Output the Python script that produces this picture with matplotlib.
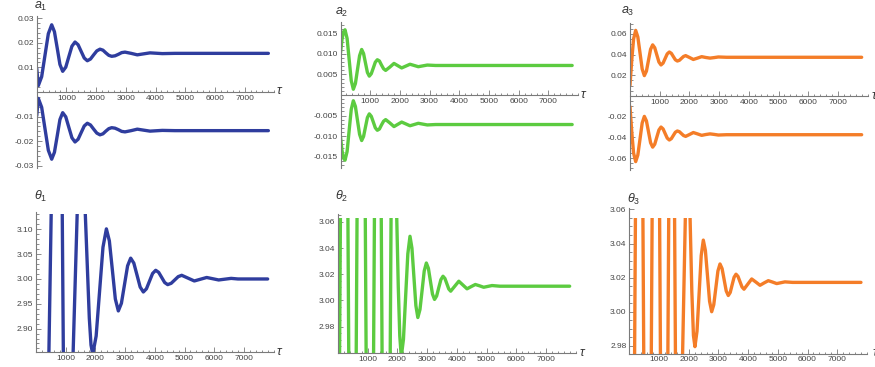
import matplotlib
matplotlib.use('Agg')
import matplotlib.pyplot as plt
from matplotlib.patches import Rectangle
from matplotlib.ticker import MultipleLocator

plt.rcParams['font.family'] = ['Liberation Sans', 'DejaVu Sans']
plt.rcParams['mathtext.fontset'] = 'custom'
plt.rcParams['mathtext.it'] = 'Liberation Sans:italic'
plt.rcParams['mathtext.rm'] = 'Liberation Sans'

# ---------------- data ----------------
# a1 (upper and lower branch)
a1_tau = [0, 55, 167, 280, 392, 505, 597, 690, 782, 875, 979, 1083, 1186, 1290,
          1394, 1497, 1601, 1704, 1811, 1918, 2024, 2131, 2230, 2328, 2427, 2525,
          2637, 2749, 2861, 2973, 3180, 3387, 3600, 3815, 4230, 4650, 7800]
a1_up = [0.0097, 0.0026, 0.0062, 0.0150, 0.0237, 0.0273, 0.0245, 0.0179, 0.0112, 0.0084,
         0.0101, 0.0144, 0.0186, 0.0203, 0.0192, 0.0165, 0.0138, 0.0127, 0.0134, 0.0151,
         0.0167, 0.0174, 0.0170, 0.0159, 0.0149, 0.0145, 0.0147, 0.0153, 0.0160, 0.0162,
         0.0157, 0.0151, 0.0155, 0.0159, 0.0156, 0.0157, 0.0157]
a1_low = [-0.0097, -0.0026, -0.0062, -0.0150, -0.0237, -0.0273, -0.0245, -0.0179, -0.0112, -0.0084,
          -0.0101, -0.0144, -0.0186, -0.0203, -0.0192, -0.0165, -0.0138, -0.0127, -0.0134, -0.0151,
          -0.0167, -0.0174, -0.0170, -0.0159, -0.0149, -0.0145, -0.0147, -0.0153, -0.0160, -0.0162,
          -0.0157, -0.0151, -0.0155, -0.0159, -0.0156, -0.0157, -0.0157]

# a2
a2_tau = [0, 50, 100, 152, 222, 292, 362, 432, 502, 572, 643, 713, 777, 841, 906, 970,
          1037, 1105, 1172, 1240, 1310, 1380, 1450, 1520, 1660, 1801, 1930, 2060, 2200,
          2340, 2480, 2620, 2770, 2923, 3200, 7800]
a2_up = [0.0102, 0.0135, 0.0154, 0.0159, 0.0138, 0.0086, 0.0035, 0.0014, 0.0028, 0.0062,
         0.0096, 0.0111, 0.0101, 0.0078, 0.0055, 0.0046, 0.0052, 0.0066, 0.0080, 0.0086,
         0.0083, 0.0073, 0.0064, 0.0060, 0.0068, 0.0077, 0.00715, 0.0066, 0.00705, 0.0075,
         0.0072, 0.0069, 0.0071, 0.0073, 0.0072, 0.0072]
a2_low = [-0.0102, -0.0135, -0.0154, -0.0159, -0.0138, -0.0086, -0.0035, -0.0014, -0.0028, -0.0062,
          -0.0096, -0.0111, -0.0101, -0.0078, -0.0055, -0.0046, -0.0052, -0.0066, -0.0080, -0.0086,
          -0.0083, -0.0073, -0.0064, -0.0060, -0.0068, -0.0077, -0.00715, -0.0066, -0.00705, -0.0075,
          -0.0072, -0.0069, -0.0071, -0.0073, -0.0072, -0.0072]

# a3
a3_tau = [0, 60, 120, 191, 264, 337, 410, 483, 553, 623, 693, 763, 833, 903, 974, 1044,
          1114, 1184, 1254, 1324, 1392, 1459, 1527, 1594, 1664, 1734, 1804, 1874, 2003,
          2132, 2272, 2413, 2553, 2694, 2834, 2974, 3250, 7800]
a3_up = [0.0103, 0.0350, 0.0550, 0.0634, 0.0570, 0.0416, 0.0261, 0.0197, 0.0240, 0.0346,
         0.0451, 0.0494, 0.0466, 0.0397, 0.0328, 0.0300, 0.0318, 0.0363, 0.0407, 0.0425,
         0.0412, 0.0381, 0.0350, 0.0338, 0.0345, 0.0364, 0.0382, 0.0390, 0.0372, 0.0353,
         0.0366, 0.0380, 0.0372, 0.0366, 0.0371, 0.0377, 0.0374, 0.0374]
a3_low = [-0.0103, -0.0350, -0.0550, -0.0634, -0.0570, -0.0416, -0.0261, -0.0197, -0.0240, -0.0346,
          -0.0451, -0.0494, -0.0466, -0.0397, -0.0328, -0.0300, -0.0318, -0.0363, -0.0407, -0.0425,
          -0.0412, -0.0381, -0.0350, -0.0338, -0.0345, -0.0364, -0.0382, -0.0390, -0.0372, -0.0353,
          -0.0366, -0.0380, -0.0372, -0.0366, -0.0371, -0.0377, -0.0374, -0.0374]

# theta1 (values outside the plot range only shape the clipped strokes)
t1_tau = [0, 415, 530, 875, 930, 1215, 1420, 1565, 1680, 1795, 1852, 1910, 2025, 2140, 2255,
          2370, 2470, 2571, 2671, 2772, 2876, 2980, 3084, 3188, 3294, 3401, 3507, 3614, 3718,
          3822, 3926, 4030, 4131, 4232, 4333, 4434, 4552, 4670, 4788, 4906, 5118, 5330, 5538,
          5747, 5950, 6150, 6360, 6570, 6800, 7800]
t1_val = [2.78, 2.78, 3.20, 3.20, 2.78, 2.78, 3.20, 3.277, 3.10, 2.921, 2.867, 2.848, 2.885,
          2.9745, 3.064, 3.101, 3.0768, 3.0183, 2.9597, 2.9356, 2.9511, 2.9888, 3.0265, 3.042,
          3.032, 3.0079, 2.9838, 2.9738, 2.9802, 2.9957, 3.0111, 3.0175, 3.0133, 3.0031, 2.9928,
          2.9886, 2.9913, 2.998, 3.0047, 3.0074, 3.0017, 2.996, 2.9995, 3.003, 3.0005, 2.998,
          2.9996, 3.0012, 3.0, 3.0]

# theta2
t2_tau = [0, 45, 90, 325, 370, 605, 650, 910, 955, 1190, 1235, 1448, 1492, 1750, 1795, 1900,
          1975, 2030, 2080, 2130, 2204, 2277, 2351, 2424, 2490, 2556, 2622, 2688, 2760, 2832,
          2903, 2975, 3044, 3112, 3181, 3250, 3321, 3392, 3464, 3535, 3600, 3665, 3729, 3794,
          3931, 4068, 4206, 4344, 4484, 4624, 4765, 4905, 5186, 5450, 7800]
t2_val = [2.93, 2.93, 3.095, 3.095, 2.93, 2.93, 3.095, 3.095, 2.93, 2.93, 3.095, 3.095, 2.93,
          2.93, 3.095, 3.14, 3.066, 3.01, 2.973, 2.957, 2.9704, 3.003, 3.0356, 3.049, 3.0399,
          3.018, 2.9961, 2.987, 2.9931, 3.0078, 3.0225, 3.0286, 3.0245, 3.0147, 3.0049, 3.0008,
          3.0034, 3.0097, 3.0159, 3.0185, 3.0168, 3.0128, 3.0088, 3.0071, 3.0109, 3.0147,
          3.0118, 3.0089, 3.0106, 3.0122, 3.0112, 3.0101, 3.0114, 3.0109, 3.0109]

# theta3
t3_tau = [0, 170, 215, 450, 495, 732, 777, 1012, 1057, 1290, 1336, 1516, 1562, 1765, 1915,
          1985, 2045, 2105, 2160, 2210, 2280, 2351, 2421, 2492, 2562, 2633, 2703, 2774, 2844,
          2914, 2984, 3054, 3124, 3193, 3263, 3333, 3398, 3463, 3528, 3593, 3660, 3727, 3795,
          3862, 3991, 4121, 4261, 4401, 4540, 4680, 4821, 4963, 5240, 5500, 7800]
t3_val = [2.95, 2.95, 3.08, 3.08, 2.95, 2.95, 3.08, 3.08, 2.95, 2.95, 3.08, 3.08, 2.95, 2.95,
          3.08, 3.10, 3.056, 3.012, 2.986, 2.9795, 2.9886, 3.0108, 3.0329, 3.042, 3.0359, 3.021,
          3.0061, 3.000, 3.0041, 3.014, 3.0239, 3.028, 3.0253, 3.0188, 3.0122, 3.0095, 3.0113,
          3.0158, 3.0202, 3.022, 3.0207, 3.0176, 3.0145, 3.0132, 3.0162, 3.0192, 3.0174,
          3.0155, 3.0169, 3.0182, 3.0174, 3.0165, 3.0175, 3.0172, 3.0172]

# tick values / labels
x_ticks = [1000, 2000, 3000, 4000, 5000, 6000, 7000]
x_labels = ['1000', '2000', '3000', '4000', '5000', '6000', '7000']
a1_ticks = [-0.03, -0.02, -0.01, 0.01, 0.02, 0.03]
a1_labels = ['-0.03', '-0.02', '-0.01', '0.01', '0.02', '0.03']
a2_ticks = [-0.015, -0.010, -0.005, 0.005, 0.010, 0.015]
a2_labels = ['-0.015', '-0.010', '-0.005', '0.005', '0.010', '0.015']
a3_ticks = [-0.06, -0.04, -0.02, 0.02, 0.04, 0.06]
a3_labels = ['-0.06', '-0.04', '-0.02', '0.02', '0.04', '0.06']
t1_ticks = [2.90, 2.95, 3.00, 3.05, 3.10]
t1_labels = ['2.90', '2.95', '3.00', '3.05', '3.10']
t23_ticks = [2.98, 3.00, 3.02, 3.04, 3.06]
t23_labels = ['2.98', '3.00', '3.02', '3.04', '3.06']

blue = '#2f3d9e'
green = '#5ccb40'
orange = '#f47d28'
axcol = '#7a7a7a'

W, H = 875, 367
fig = plt.figure(figsize=(W / 100, H / 100), dpi=100)


def make_axes(left, top, bottom, width=237.6):
    # box given in pixels of the final picture
    return fig.add_axes([left / W, 1 - bottom / H, width / W, (bottom - top) / H])


def style(ax, ylim, yticks, ylabels, yminor, middle):
    ax.set_xlim(0, 8000)
    ax.set_ylim(ylim)
    for s in ['top', 'right']:
        ax.spines[s].set_visible(False)
    for s in ['left', 'bottom']:
        ax.spines[s].set_color(axcol)
        ax.spines[s].set_linewidth(0.8)
    if middle:
        ax.spines['bottom'].set_position(('data', 0))
    ax.set_xticks(x_ticks, labels=x_labels)
    ax.set_yticks(yticks, labels=ylabels)
    ax.xaxis.set_minor_locator(MultipleLocator(200))
    ax.yaxis.set_minor_locator(MultipleLocator(yminor))
    ax.tick_params(which='both', direction='in', color=axcol, width=0.6,
                   labelsize=6, labelcolor='#444444', pad=2)
    ax.tick_params(which='major', length=3.5)
    ax.tick_params(which='minor', length=1.8)
    ax.patch.set_alpha(0)


def labels(ax, name, lx, ly, tx, ty):
    fig.text(lx / W, 1 - ly / H, name, fontsize=9, ha='center', va='center', color='#333333')
    fig.text(tx / W, 1 - ty / H, r'$\tau$', fontsize=9, ha='left', va='center', color='#333333')


def curve(ax, tau, val, col, clip=None):
    line, = ax.plot(tau, val, color=col, lw=2.4, solid_joinstyle='round', solid_capstyle='round')
    if clip is not None:
        r = Rectangle((0, clip[0]), 8000, clip[1] - clip[0], transform=ax.transData)
        line.set_clip_path(r)


# top row
ax1 = make_axes(36.7, 15.7, 168.3)
style(ax1, (-0.031, 0.031), a1_ticks, a1_labels, 0.002, True)
curve(ax1, a1_tau, a1_up, blue)
curve(ax1, a1_tau, a1_low, blue)
labels(ax1, r'$a_1$', 41, 6, 276, 91)

ax2 = make_axes(340.5, 22, 168)
style(ax2, (-0.0178, 0.0178), a2_ticks, a2_labels, 0.001, True)
curve(ax2, a2_tau, a2_up, green)
curve(ax2, a2_tau, a2_low, green)
labels(ax2, r'$a_2$', 342, 12, 580, 95)

ax3 = make_axes(630, 22.5, 169.5)
style(ax3, (-0.071, 0.071), a3_ticks, a3_labels, 0.005, True)
curve(ax3, a3_tau, a3_up, orange)
curve(ax3, a3_tau, a3_low, orange)
labels(ax3, r'$a_3$', 628, 11, 871, 96)

# bottom row
ax4 = make_axes(36, 212, 352.4)
style(ax4, (2.852, 3.135), t1_ticks, t1_labels, 0.01, False)
curve(ax4, t1_tau, t1_val, blue, clip=(2.852, 3.13))
labels(ax4, r'$\theta_1$', 41, 196, 276, 352)

ax5 = make_axes(338, 214, 352.9)
style(ax5, (2.96, 3.066), t23_ticks, t23_labels, 0.005, False)
curve(ax5, t2_tau, t2_val, green, clip=(2.96, 3.063))
labels(ax5, r'$\theta_2$', 342, 196, 579, 353)

ax6 = make_axes(629.3, 207.7, 353.5)
style(ax6, (2.9755, 3.061), t23_ticks, t23_labels, 0.005, False)
curve(ax6, t3_tau, t3_val, orange, clip=(2.9755, 3.055))
labels(ax6, r'$\theta_3$', 634, 199, 872, 353)

fig.savefig('out.png', dpi=100)
